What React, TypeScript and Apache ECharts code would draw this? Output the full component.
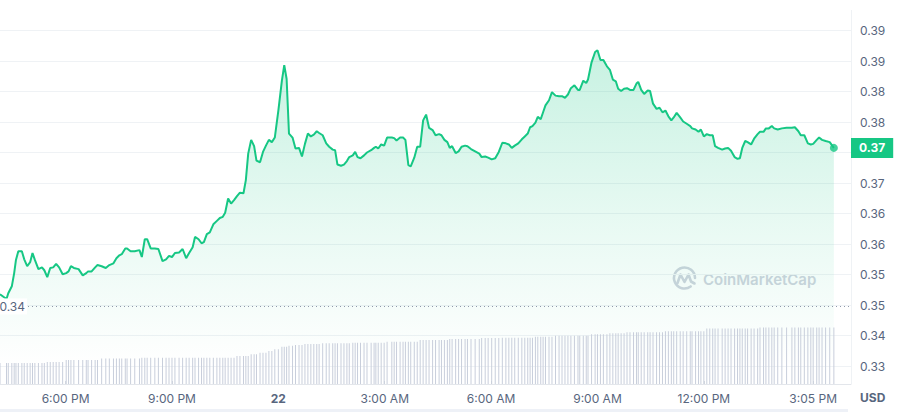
import React, { useEffect, useRef } from "react";
import * as echarts from "echarts";

// minutes relative to 00:00 on the 22nd
const times = [
  -471, -460, -457, -451, -447, -444, -440, -434, -430, -425,
  -420, -416, -412, -406, -400, -396, -391, -386, -381, -376,
  -371, -365, -359, -355, -351, -346, -338, -331, -325, -322,
  -316, -310, -306, -299, -292, -286, -279, -274, -269, -265,
  -259, -256, -250, -243, -235, -231, -226, -222, -216, -209,
  -203, -196, -190, -185, -180, -175, -168, -162, -156, -151,
  -145, -141, -135, -130, -126, -121, -116,
  -110, -104, -99, -94, -90, -85, -80, -75, -70, -65,
  -59, -55, -51, -46, -41, -37, -31, -26, -21, -16,
  -11, -6, 0, 6, 10, 14, 18, 24, 29, 35,
  40, 45, 50, 55, 60, 65, 69, 75, 81, 86,
  92, 96, 100, 106, 111, 116, 120, 126, 130, 134,
  139, 145, 150, 157, 162, 165, 169, 174, 179, 184,
  192, 196, 200, 206, 211, 215, 220, 224, 230, 235,
  240, 245, 250,
  255, 261, 266, 272, 276, 281, 286, 290, 294, 300,
  305, 310, 316, 320, 326, 333, 340, 344, 350, 355,
  361, 367, 373, 379, 385, 390, 395, 400, 406, 412,
  417, 422, 426, 430, 435, 439, 444, 448, 452, 458,
  463, 469, 475, 480, 485, 490, 495, 501, 507, 510,
  516, 521, 524, 530, 536, 540, 545, 550, 556, 561,
  566, 571, 575, 580, 585, 590, 595, 601, 606, 609,
  614, 619, 625, 629, 634, 640, 645, 650, 655, 660,
  665, 669, 674, 680, 685, 691, 697, 700, 706, 711,
  715, 720, 725, 730, 735, 739, 744, 751, 756, 761,
  766, 772, 777, 781, 785, 790, 794, 800, 805, 811,
  815, 821, 825, 830, 835, 839, 845, 852, 860, 869,
  874, 880, 884, 890, 896, 901, 905, 911, 915, 920,
  926, 933, 940,
];

const prices = [
  0.3470, 0.3462, 0.3472, 0.3484, 0.3507, 0.3530, 0.3545, 0.3545, 0.3531, 0.3519,
  0.3526, 0.3542, 0.3530, 0.3514, 0.3517, 0.3512, 0.3500, 0.3516, 0.3517, 0.3523,
  0.3517, 0.3505, 0.3507, 0.3510, 0.3519, 0.3516, 0.3514, 0.3503, 0.3507, 0.3510,
  0.3510, 0.3517, 0.3521, 0.3519, 0.3516, 0.3521, 0.3524, 0.3533, 0.3538, 0.3540,
  0.3550, 0.3550, 0.3545, 0.3545, 0.3547, 0.3535, 0.3566, 0.3566, 0.3550, 0.3550,
  0.3549, 0.3528, 0.3531, 0.3537, 0.3535, 0.3542, 0.3543, 0.3549, 0.3533, 0.3542,
  0.3552, 0.3570, 0.3566, 0.3559, 0.3561, 0.3575, 0.3578,
  0.3592, 0.3598, 0.3603, 0.3605, 0.3612, 0.3637, 0.3628, 0.3634, 0.3641, 0.3647,
  0.3646, 0.3669, 0.3715, 0.3739, 0.3728, 0.3703, 0.3700, 0.3718, 0.3729, 0.3739,
  0.3735, 0.3743, 0.3790, 0.3842, 0.3869, 0.3845, 0.3750, 0.3743, 0.3724, 0.3725,
  0.3710, 0.3732, 0.3750, 0.3745, 0.3748, 0.3754, 0.3751, 0.3747, 0.3733, 0.3727,
  0.3722, 0.3721, 0.3696, 0.3694, 0.3696, 0.3702, 0.3709, 0.3712, 0.3718, 0.3709,
  0.3707, 0.3712, 0.3717, 0.3721, 0.3725, 0.3727, 0.3724, 0.3731, 0.3729, 0.3743,
  0.3743, 0.3742, 0.3738, 0.3743, 0.3743, 0.3739, 0.3695, 0.3693, 0.3708, 0.3727,
  0.3727, 0.3773, 0.3783,
  0.3760, 0.3756, 0.3747, 0.3749, 0.3747, 0.3739, 0.3735, 0.3725, 0.3728, 0.3716,
  0.3719, 0.3727, 0.3729, 0.3728, 0.3723, 0.3719, 0.3715, 0.3709, 0.3710, 0.3708,
  0.3705, 0.3707, 0.3718, 0.3734, 0.3733, 0.3731, 0.3725, 0.3729, 0.3733, 0.3740,
  0.3745, 0.3750, 0.3761, 0.3763, 0.3769, 0.3779, 0.3775, 0.3787, 0.3799, 0.3808,
  0.3822, 0.3816, 0.3815, 0.3815, 0.3812, 0.3818, 0.3829, 0.3834, 0.3826, 0.3826,
  0.3842, 0.3838, 0.3844, 0.3874, 0.3892, 0.3895, 0.3878, 0.3878, 0.3867, 0.3861,
  0.3844, 0.3841, 0.3828, 0.3824, 0.3828, 0.3829, 0.3826, 0.3826, 0.3837, 0.3840,
  0.3826, 0.3819, 0.3825, 0.3824, 0.3802, 0.3793, 0.3795, 0.3787, 0.3790, 0.3780,
  0.3773, 0.3778, 0.3786, 0.3778, 0.3771, 0.3767, 0.3763, 0.3759, 0.3757, 0.3753,
  0.3757, 0.3745, 0.3749, 0.3747, 0.3747, 0.3728, 0.3725, 0.3722, 0.3724, 0.3725,
  0.3720, 0.3709, 0.3706, 0.3707, 0.3725, 0.3737, 0.3735, 0.3731, 0.3741, 0.3749,
  0.3753, 0.3753, 0.3759, 0.3759, 0.3763, 0.3759, 0.3757, 0.3759, 0.3760, 0.3760,
  0.3761, 0.3754, 0.3747, 0.3747, 0.3733, 0.3731, 0.3732, 0.3739, 0.3743, 0.3739,
  0.3737, 0.3735, 0.3725,
];

// volume (millions USD), one bar per price sample
const volumes = [
  2.1, 2.1, 2.1, 2.1, 2.1, 2.1, 2.1, 2.1, 2.1, 2.1,
  2.1, 2.1, 2.1, 2.1, 2.1, 2.1, 2.2, 2.2, 2.2, 2.2,
  2.2, 2.2, 2.4, 2.4, 2.4, 2.4, 2.4, 2.4, 2.4, 2.4,
  2.4, 2.4, 2.4, 2.55, 2.55, 2.55, 2.55, 2.55, 2.55, 2.55,
  2.55, 2.55, 2.55, 2.55, 2.55, 2.63, 2.63, 2.63, 2.63, 2.63,
  2.63, 2.63, 2.63, 2.63, 2.63, 2.63, 2.63, 2.63, 2.63, 2.63,
  2.63, 2.63, 2.63, 2.63, 2.63, 2.63, 2.63, 2.63, 2.63, 2.63,
  2.63, 2.63, 2.63, 2.63, 2.63, 2.8, 2.8, 2.8, 2.8, 2.8,
  2.97, 2.97, 2.97, 3.13, 3.13, 3.13, 3.3, 3.3, 3.47, 3.47,
  3.73, 3.73, 3.73, 3.83, 3.83, 3.9, 3.9, 3.9, 4.0, 4.0,
  4.0, 4.0, 4.0, 4.0, 4.07, 4.07, 4.07, 4.07, 4.07, 4.07,
  4.07, 4.07, 4.07, 4.07, 4.13, 4.13, 4.13, 4.13, 4.13, 4.13,
  4.13, 4.13, 4.13, 4.13, 4.13, 4.13, 4.23, 4.23, 4.23, 4.23,
  4.23, 4.23, 4.23, 4.23, 4.23, 4.23, 4.23, 4.4, 4.4, 4.4,
  4.4, 4.4, 4.4, 4.4, 4.4, 4.4, 4.4, 4.5, 4.5, 4.5,
  4.5, 4.5, 4.5, 4.5, 4.5, 4.5, 4.5, 4.6, 4.6, 4.6,
  4.6, 4.6, 4.6, 4.63, 4.63, 4.63, 4.63, 4.63, 4.63, 4.63,
  4.63, 4.63, 4.63, 4.63, 4.73, 4.73, 4.73, 4.73, 4.73, 4.73,
  4.73, 4.83, 4.83, 4.83, 4.83, 4.83, 4.83, 4.83, 4.83, 4.83,
  4.83, 4.83, 4.83, 4.97, 4.97, 4.97, 4.97, 4.97, 4.97, 5.07,
  5.07, 5.07, 5.07, 5.07, 5.07, 5.17, 5.17, 5.17, 5.17, 5.17,
  5.17, 5.17, 5.17, 5.17, 5.17, 5.17, 5.17, 5.17, 5.27, 5.27,
  5.27, 5.27, 5.27, 5.27, 5.27, 5.27, 5.27, 5.27, 5.27, 5.27,
  5.27, 5.27, 5.55, 5.55, 5.55, 5.55, 5.55, 5.55, 5.55, 5.55,
  5.55, 5.55, 5.55, 5.55, 5.55, 5.55, 5.55, 5.55, 5.55, 5.55,
  5.65, 5.65, 5.65, 5.65, 5.65, 5.65, 5.65, 5.65, 5.65, 5.65,
  5.65, 5.65, 5.65, 5.65, 5.65, 5.65, 5.65, 5.65, 5.65, 5.65,
  5.65, 5.65, 5.65,
];

const openPrice = 0.3449;

const xTickValues = [-360, -180, 0, 180, 360, 540, 720, 905];
const xTickLabels = ["6:00 PM", "9:00 PM", "22", "3:00 AM", "6:00 AM", "9:00 AM", "12:00 PM", "3:05 PM"];
const boldLabels = ["22"];

const timeMin = -471;
const timeMax = 969;
const priceMin = 0.33453;
const priceStep = 0.00531;
const priceMax = 0.39825;
const volumeMax = 8.4;
const currency = "USD";
const watermark = "CoinMarketCap";

const GREEN = "#16c784";
const LABEL = "#58667e";
const GRID = "#eff2f5";
const WM = "#cfd4de";
const FONT = "Inter, 'Noto Sans', sans-serif";

export default function App() {
  const ref = useRef<HTMLDivElement>(null);

  useEffect(() => {
    if (!ref.current) return;
    const chart = echarts.init(ref.current, undefined, { renderer: "svg" });
    const lastIdx = prices.length - 1;
    const lastPrice = prices[lastIdx];
    const priceData = times.map((t, i) => [t, prices[i]]);
    const volData = times.map((t, i) => [t, volumes[i]]);

    const option: any = {
      animation: false,
      textStyle: { fontFamily: FONT },
      grid: [
        { left: 0, right: 60, top: 0, bottom: 46 },
        { left: 0, right: 60, top: 300, bottom: 28 },
      ],
      xAxis: [
        { type: "value", gridIndex: 0, min: timeMin, max: timeMax, show: false },
        {
          type: "value",
          gridIndex: 1,
          min: timeMin,
          max: timeMax,
          axisLine: { show: true, lineStyle: { color: "#e3e6eb", width: 1 } },
          axisTick: {
            show: true,
            inside: true,
            length: 3,
            customValues: xTickValues,
            lineStyle: { color: "#d5d9e0" },
          },
          axisLabel: {
            customValues: xTickValues,
            color: LABEL,
            fontSize: 12,
            fontFamily: FONT,
            margin: 8,
            formatter: (v: number) => {
              const i = xTickValues.indexOf(Math.round(v));
              const s = i >= 0 ? xTickLabels[i] : "";
              return boldLabels.includes(s) ? `{b|${s}}` : s;
            },
            rich: {
              b: { fontWeight: "bold", color: LABEL, fontSize: 12, fontFamily: FONT },
            },
          },
          splitLine: { show: false },
        },
      ],
      yAxis: [
        {
          type: "value",
          gridIndex: 0,
          position: "right",
          min: priceMin,
          max: priceMax,
          interval: priceStep,
          axisLine: { show: false },
          axisTick: { show: false },
          axisLabel: {
            showMaxLabel: false,
            color: LABEL,
            fontSize: 12,
            fontFamily: FONT,
            margin: 9,
            // the tick hidden behind the current-price badge is left blank
            formatter: (v: number) => (Math.abs(v - lastPrice) < priceStep / 2 ? "" : v.toFixed(2)),
          },
          splitLine: {
            show: true,
            showMaxLine: false,
            lineStyle: {
              color: [GRID, GRID, GRID, GRID, GRID, GRID, GRID, GRID, GRID, GRID, GRID, GRID, "rgba(0,0,0,0)"],
              width: 1,
            },
          },
        },
        {
          type: "value",
          gridIndex: 1,
          min: 0,
          max: volumeMax,
          show: false,
          splitLine: { show: false },
        },
      ],
      series: [
        {
          type: "bar",
          xAxisIndex: 1,
          yAxisIndex: 1,
          data: volData,
          barWidth: 1,
          itemStyle: { color: "#c8cedb" },
          z: 4,
          silent: true,
        },
        {
          type: "line",
          xAxisIndex: 0,
          yAxisIndex: 0,
          data: priceData,
          symbol: "none",
          lineStyle: { color: GREEN, width: 2 },
          areaStyle: {
            color: new echarts.graphic.LinearGradient(0, 0, 0, 1, [
              { offset: 0, color: "rgba(22,199,132,0.34)" },
              { offset: 0.55, color: "rgba(22,199,132,0.14)" },
              { offset: 1, color: "rgba(22,199,132,0.0)" },
            ]),
          },
          z: 3,
          markLine: {
            silent: true,
            symbol: ["none", "none"],
            precision: 4,
            animation: false,
            data: [
              {
                yAxis: openPrice,
                lineStyle: { type: [1, 3], color: "#8f98aa", width: 1 },
                label: {
                  show: true,
                  position: "start",
                  distance: -27,
                  formatter: openPrice.toFixed(2),
                  color: LABEL,
                  fontSize: 12,
                  fontFamily: FONT,
                  backgroundColor: "#ffffff",
                  padding: [2, 2],
                },
              },
              {
                yAxis: lastPrice,
                lineStyle: { color: "rgba(0,0,0,0)", width: 0 },
                label: {
                  show: true,
                  position: "end",
                  distance: 0,
                  formatter: lastPrice.toFixed(2),
                  color: "#ffffff",
                  fontWeight: "bold",
                  fontSize: 12,
                  lineHeight: 12,
                  fontFamily: FONT,
                  backgroundColor: GREEN,
                  padding: [4, 8],
                },
              },
            ],
          },
        },
        {
          type: "scatter",
          xAxisIndex: 0,
          yAxisIndex: 0,
          data: [[times[lastIdx], lastPrice]],
          symbol: "circle",
          symbolSize: 8,
          itemStyle: { color: GREEN },
          z: 5,
          silent: true,
        },
      ],
      graphic: {
        elements: [
          {
            type: "line",
            shape: { x1: 851.5, y1: 10, x2: 851.5, y2: 384 },
            style: { stroke: GRID, lineWidth: 1 },
            silent: true,
          },
          {
            type: "rect",
            shape: { x: 0, y: 409, width: 848, height: 3 },
            style: { fill: "#eef1f7" },
            silent: true,
          },
          {
            type: "text",
            x: 860,
            y: 397,
            style: {
              text: currency,
              fill: LABEL,
              font: `bold 12px ${FONT}`,
              verticalAlign: "middle",
            },
            silent: true,
          },
          {
            type: "arc",
            shape: { cx: 684.5, cy: 278, r: 10.5, startAngle: Math.PI * 0.3, endAngle: Math.PI * 2, clockwise: true },
            style: { stroke: WM, lineWidth: 2.6, fill: "none", lineCap: "round" },
            silent: true,
          },
          {
            type: "polyline",
            shape: { points: [[677.5, 283], [680.5, 274.5], [684.5, 282], [688.5, 274.5], [691, 281.5], [694.5, 283.5]] },
            style: { stroke: WM, lineWidth: 2.6, fill: "none", lineJoin: "round", lineCap: "round" },
            silent: true,
          },
          {
            type: "text",
            x: 703,
            y: 279,
            style: {
              text: watermark,
              fill: WM,
              font: `600 15px ${FONT}`,
              verticalAlign: "middle",
            },
            silent: true,
          },
        ],
      },
    };

    chart.setOption(option);
    return () => chart.dispose();
  }, []);

  return (
    <div
      ref={ref}
      style={{ position: "fixed", left: 0, top: 0, width: 911, height: 412, background: "#ffffff" }}
    />
  );
}
